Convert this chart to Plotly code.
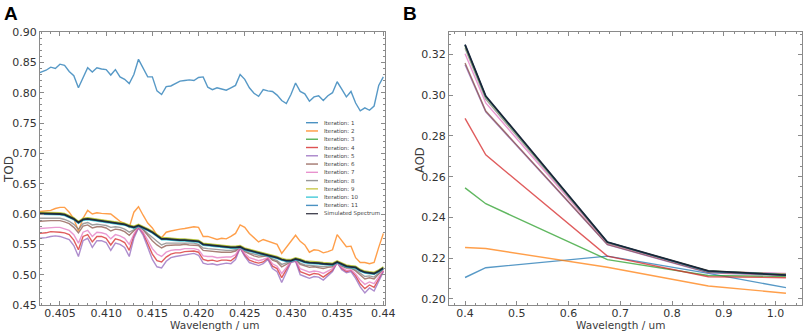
import plotly.graph_objects as go

W, H = 803, 331

# ---------------- Panel A data (TOD spectra) ----------------
wavelength_a = [0.4028, 0.4035, 0.4040, 0.4045, 0.4050, 0.4055, 0.4060, 0.4065, 0.4070, 0.4075,
                0.4080, 0.4085, 0.4090, 0.4095, 0.4100, 0.4105, 0.4110, 0.4115, 0.4120, 0.4125,
                0.4130, 0.4135, 0.4140, 0.4145, 0.4150, 0.4155, 0.4160, 0.4165, 0.4170, 0.4175,
                0.4180, 0.4185, 0.4190, 0.4195, 0.4200, 0.4205, 0.4210, 0.4215, 0.4220, 0.4225,
                0.4230, 0.4235, 0.4240, 0.4245, 0.4250, 0.4255, 0.4260, 0.4265, 0.4270, 0.4275,
                0.4280, 0.4285, 0.4290, 0.4295, 0.4300, 0.4305, 0.4310, 0.4315, 0.4320, 0.4325,
                0.4330, 0.4335, 0.4340, 0.4345, 0.4350, 0.4355, 0.4360, 0.4365, 0.4370, 0.4375,
                0.4380, 0.4385, 0.4390, 0.4395, 0.4400]

tod_iter1 = [.833, .837, .842, .840, .847, .845, .835, .828, .808, .826,
             .841, .834, .841, .839, .838, .829, .838, .826, .822, .815,
             .830, .855, .840, .826, .826, .803, .797, .810, .811, .815,
             .819, .820, .821, .820, .825, .826, .809, .805, .808, .806,
             .804, .808, .812, .830, .822, .808, .799, .794, .805, .803,
             .802, .796, .787, .782, .797, .816, .802, .798, .786, .793,
             .795, .787, .795, .800, .818, .806, .793, .802, .783, .770,
             .775, .771, .778, .812, .826]

tod_iter2 = [.604, .605, .606, .609, .611, .611, .603, .592, .572, .593,
             .606, .600, .602, .601, .600, .600, .594, .588, .584, .578,
             .603, .612, .598, .585, .577, .565, .561, .570, .572, .574,
             .575, .576, .577, .579, .578, .563, .563, .560, .558, .560,
             .559, .563, .568, .582, .578, .568, .561, .554, .558, .555,
             .552, .550, .535, .545, .555, .565, .555, .549, .537, .541,
             .540, .536, .538, .541, .566, .555, .546, .547, .528, .520,
             .520, .518, .520, .545, .568]

tod_iter3 = [.602, .602, .602, .601, .601, .600, .597, .593, .587, .592,
             .593, .592, .591, .590, .589, .588, .587, .586, .584, .581,
             .579, .582, .579, .575, .571, .566, .560, .560, .559, .559,
             .558, .558, .557, .557, .556, .551, .550, .549, .548, .547,
             .546, .546, .546, .547, .543, .541, .539, .537, .536, .534,
             .531, .529, .526, .524, .524, .527, .525, .522, .521, .521,
             .520, .519, .519, .518, .522, .518, .515, .514, .513, .508,
             .505, .504, .503, .507, .512]

tod_iter4 = [.568, .569, .571, .571, .570, .569, .566, .557, .541, .563,
             .566, .554, .563, .563, .560, .549, .559, .557, .553, .540,
             .564, .578, .568, .551, .534, .523, .521, .529, .534, .536,
             .536, .538, .538, .539, .537, .525, .523, .524, .522, .524,
             .524, .523, .529, .544, .532, .524, .521, .519, .521, .527,
             .514, .510, .495, .509, .521, .523, .505, .502, .499, .502,
             .501, .496, .502, .507, .520, .510, .505, .507, .498, .485,
             .477, .483, .479, .493, .506]

tod_iter5 = [.560, .561, .563, .564, .563, .561, .558, .548, .530, .556,
             .560, .545, .556, .556, .553, .540, .552, .550, .545, .530,
             .560, .577, .565, .545, .525, .513, .511, .522, .528, .530,
             .531, .533, .534, .535, .532, .519, .517, .518, .516, .518,
             .519, .518, .525, .544, .530, .520, .517, .515, .518, .525,
             .510, .505, .487, .505, .520, .522, .500, .497, .494, .497,
             .496, .491, .498, .505, .520, .508, .503, .505, .494, .480,
             .470, .478, .473, .490, .505]

tod_iter6 = [.588, .589, .589, .589, .589, .587, .584, .578, .569, .580,
             .582, .577, .579, .579, .577, .572, .575, .574, .571, .565,
             .572, .580, .574, .565, .556, .549, .544, .548, .549, .549,
             .549, .550, .549, .549, .548, .540, .539, .539, .537, .537,
             .537, .537, .539, .545, .538, .534, .531, .529, .530, .531,
             .524, .521, .513, .517, .522, .525, .517, .514, .512, .513,
             .512, .510, .512, .513, .521, .514, .511, .511, .506, .499,
             .493, .495, .493, .501, .509]

tod_iter7 = [.576, .577, .578, .578, .578, .576, .573, .566, .552, .570,
             .573, .563, .570, .569, .567, .559, .566, .564, .560, .550,
             .567, .579, .570, .557, .543, .534, .530, .537, .540, .541,
             .541, .543, .543, .543, .541, .531, .530, .530, .528, .529,
             .529, .529, .533, .545, .535, .528, .525, .523, .525, .528,
             .518, .514, .502, .512, .521, .524, .510, .507, .504, .506,
             .505, .502, .506, .510, .520, .512, .507, .508, .501, .491,
             .484, .488, .485, .496, .507]

tod_iter8 = [.593, .593, .593, .593, .593, .591, .588, .583, .575, .584,
             .586, .582, .583, .582, .581, .578, .579, .578, .575, .570,
             .574, .580, .575, .568, .561, .555, .549, .552, .552, .552,
             .552, .552, .552, .552, .550, .544, .543, .542, .541, .540,
             .540, .540, .541, .546, .540, .536, .534, .532, .532, .531,
             .526, .523, .517, .519, .522, .525, .519, .516, .515, .515,
             .514, .513, .514, .515, .521, .515, .512, .511, .508, .502,
             .497, .498, .496, .503, .510]

tod_iter9 = [.603, .603, .603, .602, .602, .601, .598, .594, .588, .593,
             .594, .593, .592, .591, .590, .589, .588, .587, .585, .582,
             .580, .583, .580, .576, .572, .567, .561, .561, .560, .560,
             .559, .559, .558, .558, .557, .552, .551, .550, .549, .548,
             .547, .547, .547, .548, .544, .542, .540, .538, .537, .535,
             .532, .530, .527, .525, .525, .528, .526, .523, .522, .522,
             .521, .520, .520, .519, .523, .519, .516, .515, .514, .509,
             .506, .505, .504, .508, .513]

tod_iter10 = [.5995, .5995, .5995, .5985, .5985, .5975, .5945, .5905, .5845, .5895,
              .5905, .5895, .5885, .5875, .5865, .5855, .5845, .5835, .5815, .5785,
              .5765, .5795, .5765, .5725, .5685, .5635, .5575, .5575, .5565, .5565,
              .5555, .5555, .5545, .5545, .5535, .5485, .5475, .5465, .5455, .5445,
              .5435, .5435, .5435, .5445, .5405, .5385, .5365, .5345, .5335, .5315,
              .5285, .5265, .5235, .5215, .5215, .5245, .5225, .5195, .5185, .5185,
              .5175, .5165, .5165, .5155, .5195, .5155, .5125, .5115, .5105, .5055,
              .5025, .5015, .5005, .5045, .5095]

tod_iter11 = [.6005, .6005, .6005, .5995, .5995, .5985, .5955, .5915, .5855, .5905,
              .5915, .5905, .5895, .5885, .5875, .5865, .5855, .5845, .5825, .5795,
              .5775, .5805, .5775, .5735, .5695, .5645, .5585, .5585, .5575, .5575,
              .5565, .5565, .5555, .5555, .5545, .5495, .5485, .5475, .5465, .5455,
              .5445, .5445, .5445, .5455, .5415, .5395, .5375, .5355, .5345, .5325,
              .5295, .5275, .5245, .5225, .5225, .5255, .5235, .5205, .5195, .5195,
              .5185, .5175, .5175, .5165, .5205, .5165, .5135, .5125, .5115, .5065,
              .5035, .5025, .5015, .5055, .5105]

tod_simulated = [.601, .601, .601, .600, .600, .599, .596, .592, .586, .591,
                 .592, .591, .590, .589, .588, .587, .586, .585, .583, .580,
                 .578, .581, .578, .574, .570, .565, .559, .559, .558, .558,
                 .557, .557, .556, .556, .555, .550, .549, .548, .547, .546,
                 .545, .545, .545, .546, .542, .540, .538, .536, .535, .533,
                 .530, .528, .525, .523, .523, .526, .524, .521, .520, .520,
                 .519, .518, .518, .517, .521, .517, .514, .513, .512, .507,
                 .504, .503, .502, .506, .511]

# ---------------- Panel B data (AOD) ----------------
wavelength_b = [0.40, 0.44, 0.675, 0.87, 1.02]
aod_iter1 = [0.2105, 0.2153, 0.2210, 0.2125, 0.2055]
aod_iter2 = [0.2252, 0.2247, 0.2155, 0.2063, 0.2028]
aod_iter3 = [0.2545, 0.2467, 0.2193, 0.2115, 0.2110]
aod_iter4 = [0.2886, 0.2707, 0.2210, 0.2109, 0.2104]
aod_iter5 = [0.3150, 0.2918, 0.2266, 0.2128, 0.2115]
aod_iter6 = [0.3158, 0.2922, 0.2268, 0.2130, 0.2118]
aod_iter7 = [0.3203, 0.2962, 0.2272, 0.2135, 0.2125]
aod_iter8 = [0.3230, 0.2980, 0.2275, 0.2136, 0.2122]
aod_iter9 = [0.3240, 0.2990, 0.2277, 0.2137, 0.2120]
aod_iter10 = [0.3245, 0.2993, 0.2278, 0.2136, 0.2118]
aod_iter11 = [0.3247, 0.2995, 0.2278, 0.2136, 0.2118]
aod_simulated = [0.3248, 0.2996, 0.2279, 0.2137, 0.2117]

series_names = ["Iteration: %d" % i for i in range(1, 12)] + ["Simulated Spectrum"]
tod_series = [tod_iter1, tod_iter2, tod_iter3, tod_iter4, tod_iter5, tod_iter6,
              tod_iter7, tod_iter8, tod_iter9, tod_iter10, tod_iter11, tod_simulated]
aod_series = [aod_iter1, aod_iter2, aod_iter3, aod_iter4, aod_iter5, aod_iter6,
              aod_iter7, aod_iter8, aod_iter9, aod_iter10, aod_iter11, aod_simulated]
colors = ["#1f77b4", "#ff7f0e", "#2ca02c", "#d62728", "#9467bd", "#8c564b",
          "#e377c2", "#7f7f7f", "#bcbd22", "#17becf", "#1f77b4", "#1a1a2a"]

# tick labels
a_xticks = [0.405, 0.410, 0.415, 0.420, 0.425, 0.430, 0.435, 0.440]
a_xlabels = ["0.405", "0.410", "0.415", "0.420", "0.425", "0.430", "0.435", "0.44"]
a_yticks = [0.45, 0.50, 0.55, 0.60, 0.65, 0.70, 0.75, 0.80, 0.85, 0.90]
b_xticks = [0.4, 0.5, 0.6, 0.7, 0.8, 0.9, 1.0]
b_yticks = [0.20, 0.22, 0.24, 0.26, 0.28, 0.30, 0.32]

fig = go.Figure()
for name, ys, c in zip(series_names, tod_series, colors):
    sim = name.startswith("Sim")
    fig.add_trace(go.Scatter(x=wavelength_a, y=ys, mode="lines", name=name,
                             line=dict(color=c, width=1.8 if sim else 1.4),
                             opacity=0.85 if sim else 0.75,
                             xaxis="x", yaxis="y", showlegend=False))
for name, ys, c in zip(series_names, aod_series, colors):
    sim = name.startswith("Sim")
    fig.add_trace(go.Scatter(x=wavelength_b, y=ys, mode="lines", name=name,
                             line=dict(color=c, width=1.8 if sim else 1.4),
                             opacity=0.9 if sim else 0.75,
                             xaxis="x2", yaxis="y2", showlegend=False))

tickfont = dict(family="DejaVu Sans", size=11, color="#333333")
frame = dict(showline=True, linecolor="#8a8a8a", linewidth=1, mirror="allticks",
             ticks="inside", ticklen=4, tickcolor="#8a8a8a", tickwidth=1,
             showgrid=False, zeroline=False, tickfont=tickfont, automargin=False)


def px_x(p):
    return p / W


def px_y(p):
    return 1 - p / H


fig.update_layout(
    width=W, height=H, margin=dict(l=0, r=0, t=0, b=0),
    paper_bgcolor="white", plot_bgcolor="white",
    xaxis=dict(domain=[px_x(40), px_x(385)], range=[0.40284, 0.44018],
               tickvals=a_xticks, ticktext=a_xlabels, anchor="y", ticklabelstandoff=-2,
               minor=dict(dtick=0.001, tick0=0.405, ticks="inside", ticklen=2, tickcolor="#8a8a8a"),
               **frame),
    yaxis=dict(domain=[px_y(305), px_y(32)], range=[0.45, 0.90],
               tickvals=a_yticks, ticktext=["%.2f" % v for v in a_yticks], anchor="x",
               minor=dict(dtick=0.01, tick0=0.45, ticks="inside", ticklen=2, tickcolor="#8a8a8a"),
               **frame),
    xaxis2=dict(domain=[px_x(449), px_x(802)], range=[0.369, 1.051],
                tickvals=b_xticks, ticktext=["%.1f" % v for v in b_xticks], anchor="y2",
                ticklabelstandoff=-2,
                minor=dict(dtick=0.02, tick0=0.4, ticks="inside", ticklen=2, tickcolor="#8a8a8a"),
                **frame),
    yaxis2=dict(domain=[px_y(305), px_y(32)], range=[0.197, 0.331],
                tickvals=b_yticks, ticktext=["%.2f" % v for v in b_yticks], anchor="x2",
                minor=dict(dtick=0.005, tick0=0.2, ticks="inside", ticklen=2, tickcolor="#8a8a8a"),
                **frame),
)

annotations = []
shapes = []
title_font = dict(family="DejaVu Sans", size=10.5, color="#3c3c3c")
annotations.append(dict(text="Wavelength / um", x=px_x(214), y=px_y(324.5), xref="paper", yref="paper",
                        showarrow=False, font=title_font, xanchor="center", yanchor="middle"))
annotations.append(dict(text="Wavelength / um", x=px_x(620), y=px_y(324.5), xref="paper", yref="paper",
                        showarrow=False, font=title_font, xanchor="center", yanchor="middle"))
annotations.append(dict(text="TOD", x=px_x(9), y=px_y(170), xref="paper", yref="paper", textangle=-90,
                        showarrow=False, font=dict(family="DejaVu Sans", size=12, color="#3c3c3c"),
                        xanchor="center", yanchor="middle"))
annotations.append(dict(text="AOD", x=px_x(420), y=px_y(160), xref="paper", yref="paper", textangle=-90,
                        showarrow=False, font=dict(family="DejaVu Sans", size=11.5, color="#3c3c3c"),
                        xanchor="center", yanchor="middle"))
annotations.append(dict(text="<b>A</b>", x=px_x(11), y=px_y(14), xref="paper", yref="paper",
                        showarrow=False, font=dict(family="Liberation Sans", size=19, color="black"),
                        xanchor="center", yanchor="middle"))
annotations.append(dict(text="<b>B</b>", x=px_x(410), y=px_y(14), xref="paper", yref="paper",
                        showarrow=False, font=dict(family="Liberation Sans", size=19, color="black"),
                        xanchor="center", yanchor="middle"))

# manual legend inside panel A
for i, (name, c) in enumerate(zip(series_names, colors)):
    yp = 122.7 + 8.27 * i
    shapes.append(dict(type="line", xref="paper", yref="paper",
                       x0=px_x(306), x1=px_x(318), y0=px_y(yp), y1=px_y(yp),
                       line=dict(color=c, width=1.4), opacity=0.8))
    annotations.append(dict(text=name, x=px_x(322), y=px_y(yp), xref="paper", yref="paper",
                            showarrow=False, xanchor="left", yanchor="middle",
                            font=dict(family="DejaVu Sans", size=5.5, color="#444444")))

fig.update_layout(annotations=annotations, shapes=shapes)
fig.write_html("out.html", config={"displayModeBar": False},
               post_script="document.body.style.margin='0';document.body.style.overflow='hidden';")
